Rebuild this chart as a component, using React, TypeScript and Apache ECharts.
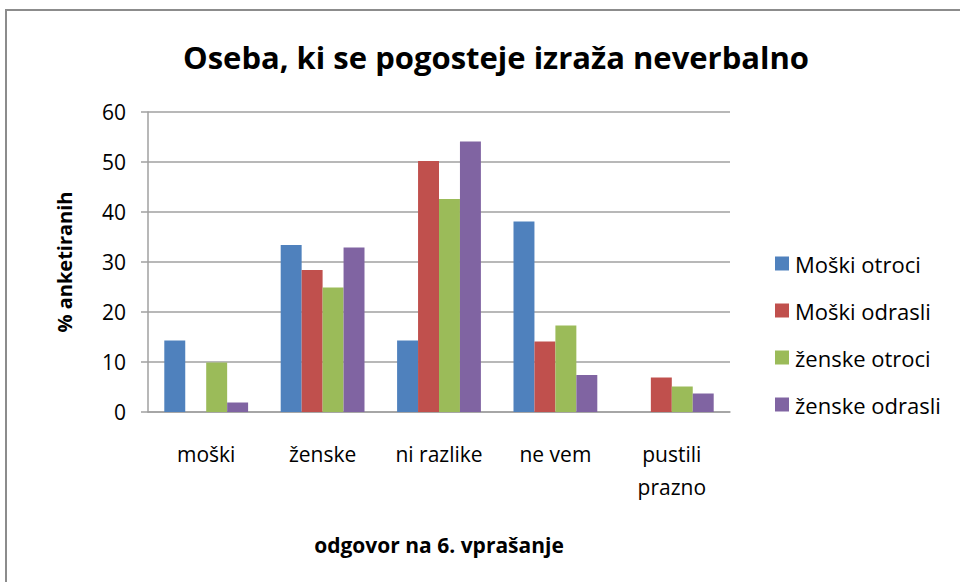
import React, { useEffect, useRef } from "react";
import * as echarts from "echarts";

const categories = ["moški", "ženske", "ni razlike", "ne vem", "pustili\nprazno"];
const seriesNames = ["Moški otroci", "Moški odrasli", "ženske otroci", "ženske odrasli"];
const moskiOtroci = [14.3, 33.4, 14.3, 38.1, 0];
const moskiOdrasli = [0, 28.4, 50.2, 14.1, 6.9];
const zenskeOtroci = [9.9, 24.9, 42.6, 17.3, 5.1];
const zenskeOdrasli = [1.9, 32.9, 54.1, 7.4, 3.7];
const colors = ["#4F81BD", "#C0504D", "#9BBB59", "#8064A2"];
const yTicks = [0, 10, 20, 30, 40, 50, 60];

const FONT = "'Open Sans', 'Noto Sans', sans-serif";

export default function App() {
  const ref = useRef<HTMLDivElement>(null);
  useEffect(() => {
    if (!ref.current) return;
    const chart = echarts.init(ref.current, null, { renderer: "svg" });
    const values = [moskiOtroci, moskiOdrasli, zenskeOtroci, zenskeOdrasli];
    chart.setOption({
      animation: false,
      backgroundColor: "#ffffff",
      title: {
        text: "Oseba, ki se pogosteje izraža neverbalno",
        left: 491,
        top: 36,
        textAlign: "center",
        textStyle: { fontFamily: FONT, fontSize: 31, fontWeight: "bold", color: "#000" },
      },
      graphic: [
        {
          type: "rect",
          shape: { x: 6, y: 10, width: 1000, height: 600 },
          style: { fill: "none", stroke: "#8c8c8c", lineWidth: 2 },
        },
      ],
      legend: {
        orient: "vertical",
        left: 770,
        top: 247,
        itemGap: 24,
        itemWidth: 14,
        itemHeight: 14,
        icon: "rect",
        data: seriesNames,
        textStyle: { fontFamily: FONT, fontSize: 22, lineHeight: 23, color: "#000", padding: [0, 0, 0, 1] },
      },
      grid: { left: 148, right: 230, top: 112, bottom: 170, containLabel: false },
      xAxis: {
        type: "category",
        data: categories,
        name: "odgovor na 6. vprašanje",
        nameLocation: "middle",
        nameGap: 122,
        nameTextStyle: { fontFamily: FONT, fontSize: 21, fontWeight: "bold", color: "#000" },
        axisLine: { lineStyle: { color: "#a0a0a0", width: 1.5 } },
        axisTick: { show: false },
        axisLabel: {
          fontFamily: FONT,
          fontSize: 21,
          color: "#000",
          margin: 25,
          lineHeight: 33,
          verticalAlign: "top",
        },
      },
      yAxis: {
        type: "value",
        min: 0,
        max: 60,
        interval: 10,
        name: "% anketiranih",
        nameLocation: "middle",
        nameRotate: 90,
        nameGap: 74,
        nameTextStyle: { fontFamily: FONT, fontSize: 20, fontWeight: "bold", color: "#000" },
        axisLine: { show: true, lineStyle: { color: "#a0a0a0", width: 1.5 } },
        axisTick: { show: true, length: 7, lineStyle: { color: "#a0a0a0", width: 1.5 } },
        axisLabel: {
          fontFamily: FONT,
          fontSize: 21,
          color: "#000",
          margin: 22,
          formatter: (v: number) => (yTicks.includes(v) ? String(v) : ""),
        },
        splitLine: { lineStyle: { color: "#a0a0a0", width: 1.5 } },
      },
      series: seriesNames.map((name, i) => ({
        name,
        type: "bar",
        data: values[i],
        barGap: "0%",
        barCategoryGap: "28%",
        itemStyle: { color: colors[i] },
      })),
    });
    return () => chart.dispose();
  }, []);
  return (
    <div
      ref={ref}
      style={{ position: "fixed", left: 0, top: 0, width: 960, height: 582 }}
    />
  );
}
